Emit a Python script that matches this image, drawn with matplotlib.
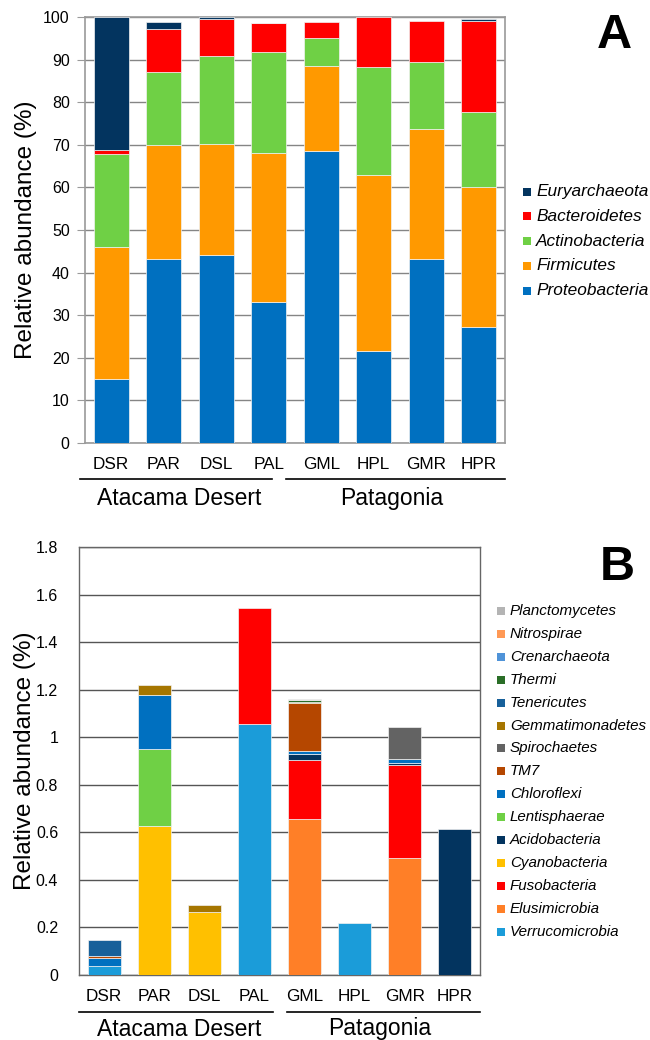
import matplotlib
matplotlib.use('Agg')
import matplotlib.pyplot as plt
import numpy as np
from matplotlib.lines import Line2D
from matplotlib.patches import Rectangle

plt.rcParams['font.family'] = ['Liberation Sans', 'DejaVu Sans']

samples = ['DSR', 'PAR', 'DSL', 'PAL', 'GML', 'HPL', 'GMR', 'HPR']
groups = ['Atacama Desert', 'Patagonia']

# Panel A: major phyla (% relative abundance), stacked bottom -> top
phyla_a = ['Proteobacteria', 'Firmicutes', 'Actinobacteria', 'Bacteroidetes', 'Euryarchaeota']
proteobacteria = [15.0, 43.3, 44.2, 33.2, 68.5, 21.5, 43.3, 27.2]
firmicutes = [31.0, 26.6, 26.1, 34.8, 20.1, 41.5, 30.4, 32.8]
actinobacteria = [21.8, 17.2, 20.6, 23.8, 6.4, 25.2, 15.8, 17.8]
bacteroidetes = [1.0, 10.2, 8.6, 6.7, 3.9, 11.8, 9.6, 21.3]
euryarchaeota = [31.2, 1.5, 0.4, 0.1, 0.0, 0.0, 0.0, 0.4]
colors_a = ['#0070C0', '#FF9900', '#6FD045', '#FF0000', '#03345F']

# Panel B: minor phyla (% relative abundance), stacked bottom -> top
phyla_b = ['Verrucomicrobia', 'Elusimicrobia', 'Fusobacteria', 'Cyanobacteria',
           'Acidobacteria', 'Lentisphaerae', 'Chloroflexi', 'TM7', 'Spirochaetes',
           'Gemmatimonadetes', 'Tenericutes', 'Thermi', 'Crenarchaeota',
           'Nitrospirae', 'Planctomycetes']
verrucomicrobia = [0.038, 0, 0, 1.057, 0, 0.22, 0, 0]
elusimicrobia = [0, 0, 0, 0, 0.656, 0, 0.49, 0]
fusobacteria = [0, 0, 0, 0.486, 0.248, 0, 0.394, 0]
cyanobacteria = [0, 0.625, 0.263, 0, 0, 0, 0, 0]
acidobacteria = [0, 0, 0, 0, 0.025, 0, 0.009, 0.615]
lentisphaerae = [0, 0.327, 0, 0, 0, 0, 0, 0]
chloroflexi = [0.035, 0.224, 0, 0, 0.013, 0, 0.014, 0]
tm7 = [0.008, 0, 0, 0, 0.203, 0, 0, 0]
spirochaetes = [0, 0, 0, 0, 0, 0, 0.137, 0]
gemmatimonadetes = [0, 0.045, 0.031, 0, 0.004, 0, 0, 0]
tenericutes = [0.066, 0, 0, 0, 0, 0, 0, 0]
thermi = [0, 0, 0, 0, 0.009, 0, 0, 0]
crenarchaeota = [0, 0, 0, 0, 0, 0, 0, 0]
nitrospirae = [0, 0, 0, 0, 0, 0, 0, 0]
planctomycetes = [0, 0, 0, 0, 0.004, 0, 0, 0]
colors_b = ['#1B9CD9', '#FF7F27', '#FF0000', '#FFC000', '#03345F', '#6FD045',
            '#0070C0', '#B54700', '#636363', '#A67600', '#17609A', '#2A6E27',
            '#4F93D8', '#FF9955', '#B4B4B4']

values_a = [proteobacteria, firmicutes, actinobacteria, bacteroidetes, euryarchaeota]
values_b = [verrucomicrobia, elusimicrobia, fusobacteria, cyanobacteria, acidobacteria,
            lentisphaerae, chloroflexi, tm7, spirochaetes, gemmatimonadetes,
            tenericutes, thermi, crenarchaeota, nitrospirae, planctomycetes]

W, H = 650, 1040


def fx(x):
    return x / W


def fy(y):
    return 1 - y / H


fig = plt.figure(figsize=(6.5, 10.4), dpi=100)


def stacked(ax, series, colors):
    x = np.arange(len(samples))
    bottom = np.zeros(len(samples))
    for vals, c in zip(series, colors):
        vals = np.array(vals, dtype=float)
        m = vals > 0
        ax.bar(x[m], vals[m], bottom=bottom[m], width=0.66, color=c,
               edgecolor='#f2f2f2', linewidth=0.5, zorder=3)
        bottom += vals
    ax.set_xlim(-0.5, len(samples) - 0.5)
    ax.set_xticks(x)
    ax.set_xticklabels(samples, fontsize=12.3)
    ax.tick_params(axis='x', length=0, pad=10)
    ax.tick_params(axis='y', labelsize=11.5)


def legend(labels, colors, x0, y0, dy, size, fs):
    for i, (lab, c) in enumerate(zip(labels, colors)):
        yc = y0 + i * dy
        fig.add_artist(Rectangle((fx(x0), fy(yc + size / 2)), size / W, size / H,
                                 transform=fig.transFigure, color=c, lw=0))
        fig.text(fx(x0 + size + 5), fy(yc), lab, style='italic', fontsize=fs,
                 va='center', ha='left')


def group_axis(x_left, x_split, x_right, y_line, y_text):
    fig.add_artist(Line2D([fx(x_left), fx(x_split - 7)], [fy(y_line)] * 2,
                          color='black', lw=1.2))
    fig.add_artist(Line2D([fx(x_split + 7), fx(x_right)], [fy(y_line)] * 2,
                          color='black', lw=1.2))
    fig.text(fx((x_left + x_split) / 2), fy(y_text), groups[0], fontsize=16.5,
             ha='center', va='center')
    fig.text(fx((x_split + x_right) / 2), fy(y_text), groups[1], fontsize=16.5,
             ha='center', va='center')


# ---- Panel A ----
axA = fig.add_axes([fx(85), fy(443), (505 - 85) / W, (443 - 17) / H])
stacked(axA, values_a, colors_a)
axA.set_ylim(0, 100)
axA.set_yticks(np.arange(0, 101, 10))
axA.grid(axis='y', color='#858585', lw=1.0, zorder=0)
for s in axA.spines.values():
    s.set_color('#9a9a9a')
    s.set_linewidth(1.2)
axA.tick_params(axis='y', length=6, color='#9a9a9a', pad=5)
axA.set_ylabel('Relative abundance (%)', fontsize=17.5)
axA.yaxis.set_label_coords(-0.115, 0.5)
legend(phyla_a[::-1], colors_a[::-1], 523, 191.5, 24.75, 8, 12.4)
group_axis(80, 279, 505, 479, 498)
fig.text(fx(614), fy(36), 'A', fontsize=35, fontweight='bold', ha='center', va='center')

# ---- Panel B ----
axB = fig.add_axes([fx(79), fy(975), (480 - 79) / W, (975 - 547) / H])
stacked(axB, values_b, colors_b)
axB.set_ylim(0, 1.8)
ticks_b = np.round(np.arange(0, 1.81, 0.2), 1)
axB.set_yticks(ticks_b)
axB.set_yticklabels([f'{t:g}' for t in ticks_b])
axB.grid(axis='y', color='#555555', lw=1.0, zorder=0)
for s in axB.spines.values():
    s.set_color('#666666')
    s.set_linewidth(1.0)
axB.tick_params(axis='y', length=0, pad=15)
axB.set_ylabel('Relative abundance (%)', fontsize=17.5)
axB.yaxis.set_label_coords(-0.108, 0.5)
legend(phyla_b[::-1], colors_b[::-1], 497, 611, 22.9, 8, 10.9)
group_axis(79, 280, 480, 1012, 1029)
fig.text(fx(617), fy(568), 'B', fontsize=35, fontweight='bold', ha='center', va='center')

fig.savefig('out.png', dpi=100)
